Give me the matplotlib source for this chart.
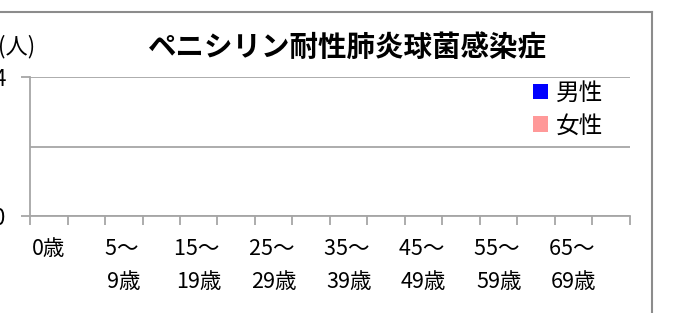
import numpy as np
import matplotlib
matplotlib.use("Agg")
import matplotlib.pyplot as plt
from matplotlib.lines import Line2D

plt.rcParams["font.family"] = ["Noto Sans CJK JP", "DejaVu Sans"]

# age groups (only every other label is shown, like the original)
groups = ["0歳", "1〜\n4歳", "5〜 \n9歳", "10〜 \n14歳", "15〜 \n19歳", "20〜 \n24歳",
          "25〜 \n29歳", "30〜 \n34歳", "35〜 \n39歳", "40〜 \n44歳", "45〜 \n49歳",
          "50〜 \n54歳", "55〜 \n59歳", "60〜 \n64歳", "65〜 \n69歳", "70歳〜"]
male = [0, 0, 0, 0, 0, 0, 0, 0, 0, 0, 0, 0, 0, 0, 0, 0]
female = [0, 0, 0, 0, 0, 0, 0, 0, 0, 0, 0, 0, 0, 0, 0, 0]
title = "ペニシリン耐性肺炎球菌感染症"

W, H = 675, 313
fig = plt.figure(figsize=(W / 100, H / 100), dpi=100)
ax = fig.add_axes([30 / W, (H - 216) / H, 600 / W, (216 - 77) / H])

x = np.arange(len(groups))
bm = ax.bar(x - 0.2, male, 0.4, color="#0000ff", label="男性")
bf = ax.bar(x + 0.2, female, 0.4, color="#ff9999", label="女性")

ax.set_xlim(-0.5, len(groups) - 0.5)
ax.set_ylim(0, 4)

# axis styling
grey = "#a6a6a6"
for s in ["top", "right"]:
    ax.spines[s].set_visible(False)
ax.spines["left"].set_color(grey)
ax.spines["bottom"].set_color(grey)
ax.spines["left"].set_linewidth(1.3)
ax.spines["bottom"].set_linewidth(1.3)

ax.set_yticks([0, 4])
ax.set_yticks([2], minor=True)
ax.tick_params(axis="y", which="major", length=6.5, width=1.3, color=grey,
               pad=11, labelsize=16)
ax.tick_params(axis="y", which="minor", length=0)
ax.yaxis.grid(True, which="both", color=grey, linewidth=1.3)
ax.set_axisbelow(True)

# x: ticks at group boundaries, labels at every other group centre
ax.set_xticks(np.arange(len(groups) + 1) - 0.5)
ax.set_xticklabels([])
ax.tick_params(axis="x", which="major", length=6.5, width=1.3, color=grey)
lab_pos = x[::2]
ax.set_xticks(lab_pos, minor=True)
ax.set_xticklabels([groups[i] for i in lab_pos], minor=True, va="top",
                   linespacing=1.65)
ax.tick_params(axis="x", which="minor", length=0, pad=15.5, labelsize=15.5)

# unit label, partly cut off at the left edge like the original
fig.text(35 / W, 1 - 47 / H, "(人)", ha="right", va="center", fontsize=16)

fig.text(347 / W, 1 - 48 / H, title, ha="center", va="center",
         fontsize=20.5, fontweight="bold")

ax.legend(handles=[bm, bf], loc="upper left", bbox_to_anchor=(533 / W, 1 - 82 / H),
          bbox_transform=fig.transFigure, frameon=False, fontsize=17,
          handlelength=0.62, handleheight=0.62, handletextpad=0.35,
          labelspacing=0.4, borderpad=0, borderaxespad=0)

# outer chart border (top and right edges visible in the crop)
fig.add_artist(Line2D([0, 652 / W], [1 - 12 / H, 1 - 12 / H],
                      transform=fig.transFigure, color="#8c8c8c", lw=1.5))
fig.add_artist(Line2D([652 / W, 652 / W], [1 - 12 / H, 0],
                      transform=fig.transFigure, color="#8c8c8c", lw=1.5))

fig.savefig("out.png", dpi=100)
